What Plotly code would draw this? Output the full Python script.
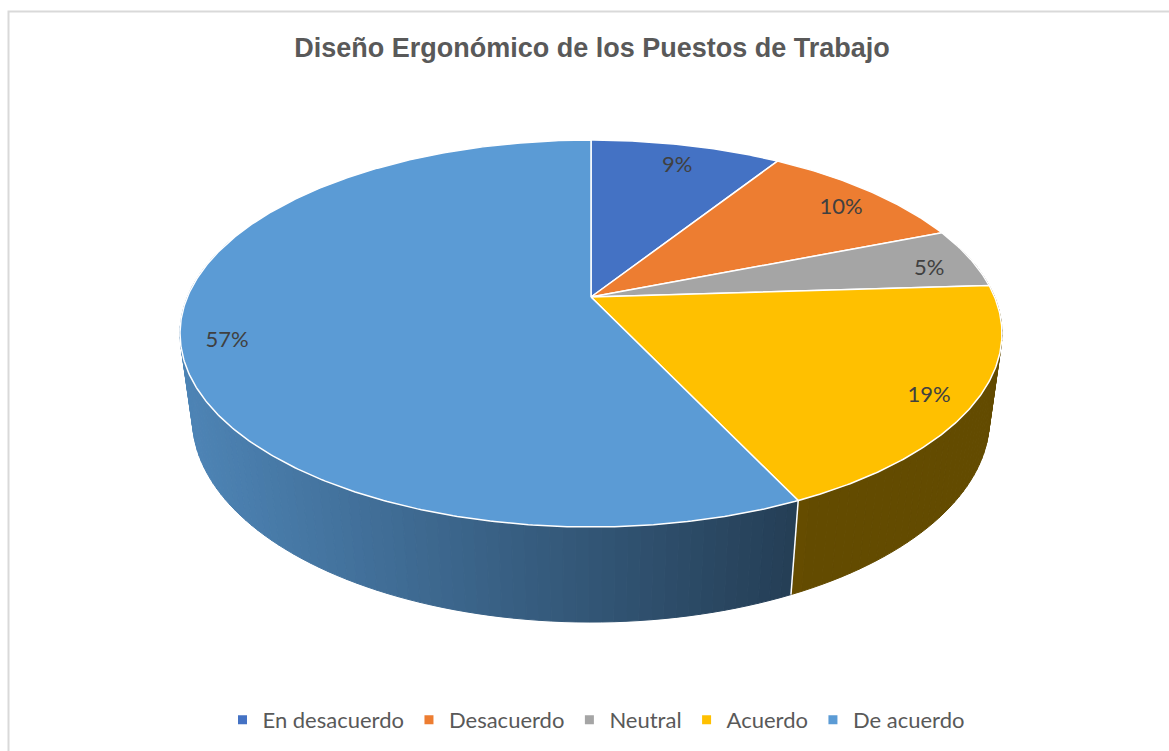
import numpy as np
import plotly.graph_objects as go

# ---------------- data ----------------
categories = ["En desacuerdo", "Desacuerdo", "Neutral", "Acuerdo", "De acuerdo"]
values = [9, 10, 5, 19, 57]
colors = ["#4472C4", "#ED7D31", "#A5A5A5", "#FFC000", "#5B9BD5"]
title_text = "Diseño Ergonómico de los Puestos de Trabajo"

# ---------------- geometry / style (pixels) ----------------
W, H = 1169, 751
CX, CY = 591.0, 297.0      # pie apex on screen
RX, RY = 403.6, 186.6      # radii of the top face
K = 0.1886                 # perspective along depth
M = 0.03                   # perspective along thickness
DEPTH = 86.9               # thickness of the pie
LABEL_R = 0.89
LABEL_DY = 7
TEXT_GRAY = "#595959"


def proj(X, Y, d=0.0):
    w = 1.0 + K * Y + M * d
    return CX + RX * X / w, CY + (-RY * Y + DEPTH * d) / w


def hex_rgb(h):
    h = h.lstrip("#")
    return tuple(int(h[i:i + 2], 16) for i in (0, 2, 4))


def shade(hexcol, sx):
    f = np.clip(0.85 - 0.45 * (sx - 183.0) / 617.0, 0.39, 0.85)
    r, g, b = hex_rgb(hexcol)
    return "rgb(%d,%d,%d)" % (round(r * f), round(g * f), round(b * f))


total = float(sum(values))
fr = np.array(values) / total
ends = np.cumsum(fr)
starts = ends - fr

fig = go.Figure()

# ---------------- side walls (back to front) ----------------
strips = []
for i, c in enumerate(colors):
    a0, a1 = starts[i] * 2 * np.pi, ends[i] * 2 * np.pi
    n = max(2, int(np.ceil((a1 - a0) / np.radians(1.5))))
    ang = np.linspace(a0, a1, n + 1)
    for j in range(n):
        aa = np.linspace(ang[j], ang[j + 1], 3)
        Ym = np.cos(0.5 * (ang[j] + ang[j + 1]))
        if Ym > 0.3:
            continue
        X, Y = np.sin(aa), np.cos(aa)
        tx, ty = proj(X, Y, 0.0)
        bx, by = proj(X, Y, 1.0)
        px = list(tx) + list(bx[::-1]) + [tx[0]]
        py = list(ty) + list(by[::-1]) + [ty[0]]
        col = shade(c, float(np.mean(tx)))
        strips.append((Ym, px, py, col))

strips.sort(key=lambda s: -s[0])
for _, px, py, col in strips:
    fig.add_trace(go.Scatter(x=px, y=py, mode="lines", fill="toself",
                             fillcolor=col, line=dict(color=col, width=1),
                             hoverinfo="skip", showlegend=False))

# white edges between slices on the visible wall
for e in ends:
    a = e * 2 * np.pi
    if np.cos(a) < -0.19:
        X, Y = np.sin(a), np.cos(a)
        tx, ty = proj(X, Y, 0.0)
        bx, by = proj(X, Y, 1.0)
        fig.add_trace(go.Scatter(x=[tx, bx], y=[ty, by], mode="lines",
                                 line=dict(color="white", width=1.5),
                                 hoverinfo="skip", showlegend=False))

# ---------------- top face ----------------
for i, c in enumerate(colors):
    a0, a1 = starts[i] * 2 * np.pi, ends[i] * 2 * np.pi
    n = max(8, int(np.ceil((a1 - a0) / np.radians(0.5))))
    aa = np.linspace(a0, a1, n + 1)
    tx, ty = proj(np.sin(aa), np.cos(aa), 0.0)
    px = [CX] + list(tx) + [CX]
    py = [CY] + list(ty) + [CY]
    fig.add_trace(go.Scatter(x=px, y=py, mode="lines", fill="toself",
                             fillcolor=c, line=dict(color="white", width=1.5),
                             hoverinfo="skip", showlegend=False))

# ---------------- percentage labels ----------------
lx, ly, lt = [], [], []
for i, v in enumerate(values):
    a = (starts[i] + fr[i] / 2) * 2 * np.pi
    x, y = proj(LABEL_R * np.sin(a), LABEL_R * np.cos(a), 0.0)
    lx.append(x)
    ly.append(y + LABEL_DY)
    lt.append("%d%%" % round(100 * v / total))
fig.add_trace(go.Scatter(x=lx, y=ly, text=lt, mode="text",
                         textfont=dict(family="Lato", size=22, color="#404040"),
                         hoverinfo="skip", showlegend=False))

# ---------------- legend entries ----------------
for cat, c in zip(categories, colors):
    fig.add_trace(go.Scatter(x=[None], y=[None], mode="markers", name=cat,
                             marker=dict(symbol="square", size=9, color=c),
                             showlegend=True))

fig.update_layout(
    width=W, height=H, autosize=False,
    margin=dict(l=0, r=0, t=0, b=0),
    paper_bgcolor="white", plot_bgcolor="white",
    xaxis=dict(range=[0, W], visible=False, fixedrange=True),
    yaxis=dict(range=[H, 0], visible=False, fixedrange=True),
    title=dict(text="<b>" + title_text + "</b>", x=592 / W, xanchor="center",
               y=1 - 48 / H, yanchor="middle",
               font=dict(family="Liberation Sans", size=27, color=TEXT_GRAY)),
    legend=dict(orientation="h", x=596 / W, xanchor="center",
                y=1 - 720 / H, yanchor="middle",
                font=dict(family="Lato", size=22, color=TEXT_GRAY),
                itemclick=False, itemdoubleclick=False),
    shapes=[dict(type="rect", xref="x", yref="y", x0=8.5, y0=11.5, x1=W + 20, y1=H + 20,
                 line=dict(color="#D9D9D9", width=2), fillcolor="rgba(0,0,0,0)",
                 layer="below")],
    showlegend=True,
)

fig.write_html("out.html", config={"displayModeBar": False},
               post_script="document.body.style.margin='0';")
